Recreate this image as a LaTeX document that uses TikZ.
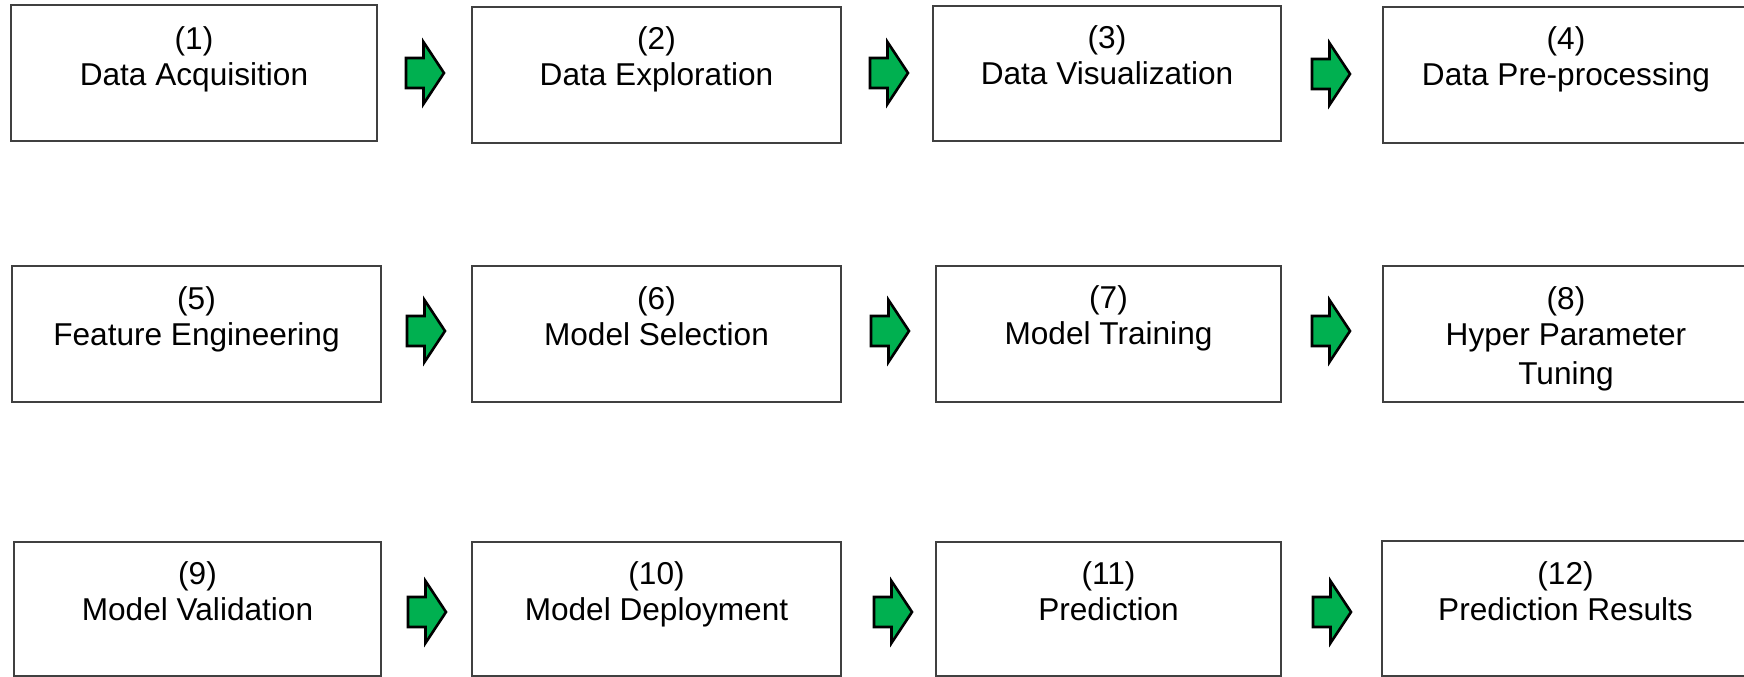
\documentclass[tikz,border=0pt]{standalone}
\usepackage{fontspec}
\setmainfont{Liberation Sans}
\definecolor{arrowgreen}{RGB}{0,176,80}
\definecolor{boxline}{RGB}{64,64,64}
\begin{document}
\begin{tikzpicture}[x=1bp,y=-1bp,
  stepbox/.style={draw=boxline, line width=1.3bp, fill=white, inner sep=0pt, outer sep=0pt},
  % anchored at the baseline of the last caption line
  steplabel/.style={align=center, anchor=base, inner sep=0pt,
    font=\fontsize{31.6bp}{36bp}\selectfont},
  blockarrow/.pic={
    \draw[fill=arrowgreen, draw=black, line width=2.6bp, line join=miter]
      (0,-15) -- (17.5,-15) -- (17.5,-31) -- (38,0) -- (17.5,31) -- (17.5,15) -- (0,15) -- cycle;}
]
\useasboundingbox (0,0) rectangle (1744,677);

% ---- process steps (boxes) ----
\node[stepbox, minimum width=366bp, minimum height=136bp] (b1)  at (194,73)      {};
\node[stepbox, minimum width=369bp, minimum height=136bp] (b2)  at (656.5,75)    {};
\node[stepbox, minimum width=348bp, minimum height=135bp] (b3)  at (1107,73.5)   {};
\node[stepbox, minimum width=366bp, minimum height=136bp] (b4)  at (1566,75)     {};
\node[stepbox, minimum width=369bp, minimum height=136bp] (b5)  at (196.5,334)   {};
\node[stepbox, minimum width=369bp, minimum height=136bp] (b6)  at (656.5,334)   {};
\node[stepbox, minimum width=345bp, minimum height=136bp] (b7)  at (1108.5,334)  {};
\node[stepbox, minimum width=366bp, minimum height=136bp] (b8)  at (1566,334)    {};
\node[stepbox, minimum width=367bp, minimum height=134bp] (b9)  at (197.5,609)   {};
\node[stepbox, minimum width=369bp, minimum height=134bp] (b10) at (656.5,609)   {};
\node[stepbox, minimum width=345bp, minimum height=134bp] (b11) at (1108.5,609)  {};
\node[stepbox, minimum width=367bp, minimum height=135bp] (b12) at (1565.5,608.5){};

% ---- step captions ----
\node[steplabel] (t1)  at (b1.center  |- 0,86)  {(1)\\Data Acquisition};
\node[steplabel] (t2)  at (b2.center  |- 0,86)  {(2)\\Data Exploration};
\node[steplabel] (t3)  at (b3.center  |- 0,84.5){(3)\\Data Visualization};
\node[steplabel] (t4)  at (b4.center  |- 0,86)  {(4)\\Data Pre-processing};
\node[steplabel] (t5)  at (b5.center  |- 0,345) {(5)\\Feature Engineering};
\node[steplabel] (t6)  at (b6.center  |- 0,345) {(6)\\Model Selection};
\node[steplabel] (t7)  at (b7.center  |- 0,344.5){(7)\\Model Training};
\node[steplabel] (t8)  at (b8.center  |- 0,384.5){(8)\\Hyper Parameter\\[3bp]Tuning};
\node[steplabel] (t9)  at (b9.center  |- 0,620) {(9)\\Model Validation};
\node[steplabel] (t10) at (b10.center |- 0,620) {(10)\\Model Deployment};
\node[steplabel] (t11) at (b11.center |- 0,620) {(11)\\Prediction};
\node[steplabel] (t12) at (b12.center |- 0,620) {(12)\\Prediction Results};

% ---- block arrows between steps ----
\pic at (406,73)  {blockarrow};
\pic at (870,73)  {blockarrow};
\pic at (1312,74) {blockarrow};
\pic at (407,331) {blockarrow};
\pic at (871,331) {blockarrow};
\pic at (1312,331){blockarrow};
\pic at (408,612) {blockarrow};
\pic at (874,612) {blockarrow};
\pic at (1313,612){blockarrow};
\end{tikzpicture}
\end{document}
